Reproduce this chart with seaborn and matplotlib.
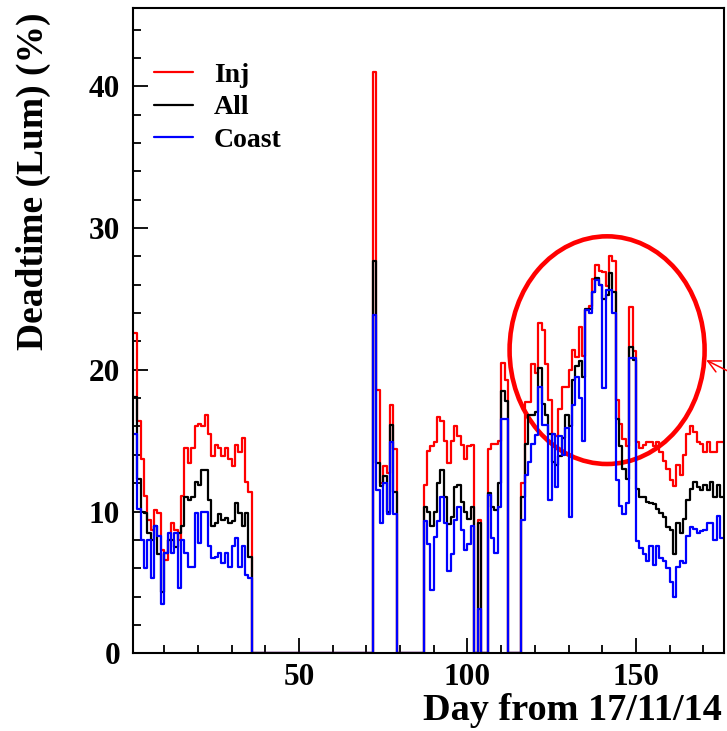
import numpy as np
import pandas as pd
import matplotlib
matplotlib.use("Agg")
import matplotlib.pyplot as plt
import seaborn as sns
from matplotlib.patches import Ellipse
from matplotlib.ticker import MultipleLocator

# ---------------- data (deadtime %, one bin per day) ----------------
N_DAYS = 176
seg_starts = [0, 72, 87, 116]

inj_a = [22.6, 22.6, 16.4, 13.7, 11.1, 9.4, 8.7, 10.1, 9.9, 7.3, 6.6, 8.0, 9.2, 8.7,
         8.0, 11.1, 14.5, 13.4, 14.5, 16.0, 16.2, 16.0, 16.8, 15.5, 13.9, 14.7, 14.5,
         13.9, 14.5, 13.7, 13.2, 14.7, 14.2, 15.2, 12.1, 11.4]
all_a = [18.1, 18.1, 12.3, 10.0, 9.9, 8.5, 8.0, 9.0, 7.0, 4.3, 7.1, 8.0, 8.0, 7.5,
         8.5, 9.0, 11.0, 10.8, 11.0, 12.1, 11.9, 12.9, 12.9, 10.8, 9.0, 9.2, 9.8,
         9.4, 9.55, 9.2, 9.3, 10.6, 9.9, 9.0, 9.9, 6.8]
coast_a = [15.5, 15.5, 10.2, 8.0, 6.0, 8.0, 5.3, 9.0, 8.3, 3.5, 7.1, 8.5, 7.1, 8.5,
           4.6, 8.0, 7.1, 6.1, 6.1, 9.9, 7.8, 10.0, 10.0, 7.6, 6.7, 6.8, 7.1,
           6.4, 7.1, 6.1, 7.6, 8.1, 6.1, 7.6, 5.5, 5.3]

inj_b = [41.0, 18.6, 12.0, 13.2, 12.7, 17.5, 14.4]
all_b = [27.7, 13.4, 11.8, 12.5, 10.0, 16.1, 11.4]
coast_b = [23.9, 11.5, 9.2, 12.0, 9.8, 14.9, 9.8]

inj_c = [11.9, 14.3, 14.6, 14.9, 16.7, 16.4, 15.0, 13.4, 15.0, 16.0, 15.3, 14.7,
         13.7, 14.6, 14.7, 0.0, 9.4, 0.0, 0.0, 14.4, 14.8, 14.8, 15.0, 20.5, 19.3]
all_c = [10.3, 10.0, 9.0, 10.0, 12.0, 12.9, 11.0, 9.1, 9.6, 11.7, 11.9, 10.7,
         10.0, 9.5, 10.3, 0.0, 9.2, 0.0, 0.0, 11.3, 10.3, 10.1, 12.0, 18.5, 17.8]
coast_c = [9.3, 7.7, 4.5, 8.2, 9.3, 11.0, 9.2, 5.8, 7.0, 9.4, 10.3, 8.7,
           7.3, 7.7, 9.0, 0.0, 3.1, 0.0, 0.0, 11.2, 8.1, 7.1, 10.3, 16.5, 16.5]

inj_d = [12.0, 17.7, 17.7, 20.4, 19.8, 23.3, 22.8, 20.4, 17.9, 15.5, 15.3, 17.2,
         18.8, 18.8, 20.0, 21.4, 20.9, 23.0, 21.0, 24.2, 24.5, 26.4, 27.4, 27.0,
         26.9, 25.9, 28.0, 27.7, 17.9, 16.2, 15.1, 14.6, 24.4, 21.3, 14.9, 14.5,
         14.7, 14.9, 14.9, 14.6, 14.9, 14.2, 13.6, 13.0, 12.2, 11.8, 13.3, 12.6,
         14.0, 15.5, 16.0, 15.6, 14.9, 14.8, 14.2, 14.9, 14.2, 14.2, 14.9, 14.9]
all_d = [11.0, 14.8, 16.8, 16.8, 17.0, 20.1, 17.6, 16.8, 15.5, 13.5, 13.3, 13.9,
         15.2, 16.8, 16.0, 19.3, 20.3, 20.6, 19.5, 24.3, 24.3, 25.5, 26.5, 26.0,
         25.0, 25.3, 26.8, 25.5, 16.5, 14.6, 13.0, 12.3, 21.6, 20.7, 11.6, 11.0,
         11.0, 10.7, 10.6, 10.5, 10.2, 9.9, 9.6, 8.9, 8.7, 7.0, 9.2, 8.5,
         9.5, 10.8, 11.6, 12.1, 11.7, 11.5, 11.9, 11.5, 12.1, 11.0, 11.9, 11.0]
coast_d = [9.4, 12.6, 13.5, 14.8, 15.4, 18.8, 16.1, 16.1, 10.8, 15.5, 11.7, 15.3,
           14.0, 15.9, 9.6, 17.5, 19.5, 18.0, 15.0, 24.2, 24.0, 25.5, 26.3, 26.0,
           18.7, 25.6, 25.6, 24.0, 12.2, 10.4, 9.8, 10.6, 20.8, 20.8, 7.9, 7.4,
           7.0, 6.5, 7.6, 6.2, 7.6, 6.7, 6.5, 6.0, 5.0, 4.0, 6.1, 6.5,
           6.4, 8.3, 8.9, 8.8, 8.5, 8.6, 8.7, 9.2, 9.2, 8.0, 9.7, 8.1]

series_names = ["Inj", "All", "Coast"]
series_colors = ["#ff0000", "#000000", "#0000ff"]


def assemble(segments):
    arr = np.zeros(N_DAYS)
    for start, vals in zip(seg_starts, segments):
        arr[start:start + len(vals)] = vals
    return arr


inj = assemble([inj_a, inj_b, inj_c, inj_d])
all_ = assemble([all_a, all_b, all_c, all_d])
coast = assemble([coast_a, coast_b, coast_c, coast_d])

days = np.arange(N_DAYS) + 0.5
df = pd.DataFrame({"day": np.tile(days, 3),
                   "deadtime": np.concatenate([inj, all_, coast]),
                   "type": np.repeat(series_names, N_DAYS)})

# ---------------- figure ----------------
sns.set_theme(style="ticks")
plt.rcParams["font.family"] = ["Liberation Serif", "DejaVu Serif"]
plt.rcParams["font.weight"] = "bold"
for key in ["text.color", "axes.labelcolor", "xtick.color", "ytick.color",
            "axes.edgecolor"]:
    plt.rcParams[key] = "black"

fig = plt.figure(figsize=(7.27, 7.31), dpi=100)
ax = fig.add_axes([0.1823, 0.1063, 0.8129, 0.8823])

for name, col in zip(series_names, series_colors):
    sub = df[df["type"] == name]
    sns.histplot(data=sub, x="day", weights="deadtime", binwidth=1,
                 binrange=(0, N_DAYS), element="step", fill=False,
                 color=col, linewidth=1.6, label=name, ax=ax)

ax.set_xlim(0.6, 176)
ax.set_ylim(0, 45.5)
ax.xaxis.set_major_locator(MultipleLocator(50))
ax.xaxis.set_minor_locator(MultipleLocator(10))
ax.yaxis.set_major_locator(MultipleLocator(10))
ax.yaxis.set_minor_locator(MultipleLocator(2))
ax.tick_params(which="both", direction="in", top=False, right=False,
               width=1.3, colors="black")
ax.tick_params(axis="y", which="major", length=11, labelsize=22.5, pad=9)
ax.tick_params(axis="x", which="major", length=11, labelsize=22.5, pad=7)
ax.tick_params(which="minor", length=5.5)
for lab in ax.get_xticklabels() + ax.get_yticklabels():
    lab.set_fontweight("bold")
for sp in ax.spines.values():
    sp.set_linewidth(1.5)
    sp.set_color("black")

ax.set_xlabel("Day from 17/11/14", fontsize=27.5, fontweight="bold", color="black")
ax.set_ylabel("Deadtime (Lum) (%)", fontsize=27, fontweight="bold", color="black")
ax.xaxis.set_label_coords(0.997, -0.061)
ax.xaxis.label.set_ha("right")
ax.xaxis.label.set_va("top")
ax.yaxis.set_label_coords(-0.168, 0.993)
ax.yaxis.label.set_ha("right")
ax.yaxis.label.set_va("center")

leg = ax.legend(loc="upper left", bbox_to_anchor=(0.037, 0.916), frameon=False,
                fontsize=20, handlelength=1.4, handletextpad=0.75,
                labelspacing=0.25, borderpad=0, borderaxespad=0)
for t in leg.get_texts():
    t.set_fontweight("bold")
    t.set_color("black")

# red circle annotation
ell = Ellipse((0.803, 0.470), 0.330, 0.353, transform=ax.transAxes,
              fill=False, edgecolor="#ff0000", linewidth=3.3, clip_on=False)
ax.add_patch(ell)
ax.annotate("", xy=(0.968, 0.509), xycoords="figure fraction",
            xytext=(1.03, 0.478), textcoords="figure fraction",
            arrowprops=dict(arrowstyle="->", color="#ff0000", lw=1.1,
                            mutation_scale=22))

fig.savefig("out.png", dpi=100)
